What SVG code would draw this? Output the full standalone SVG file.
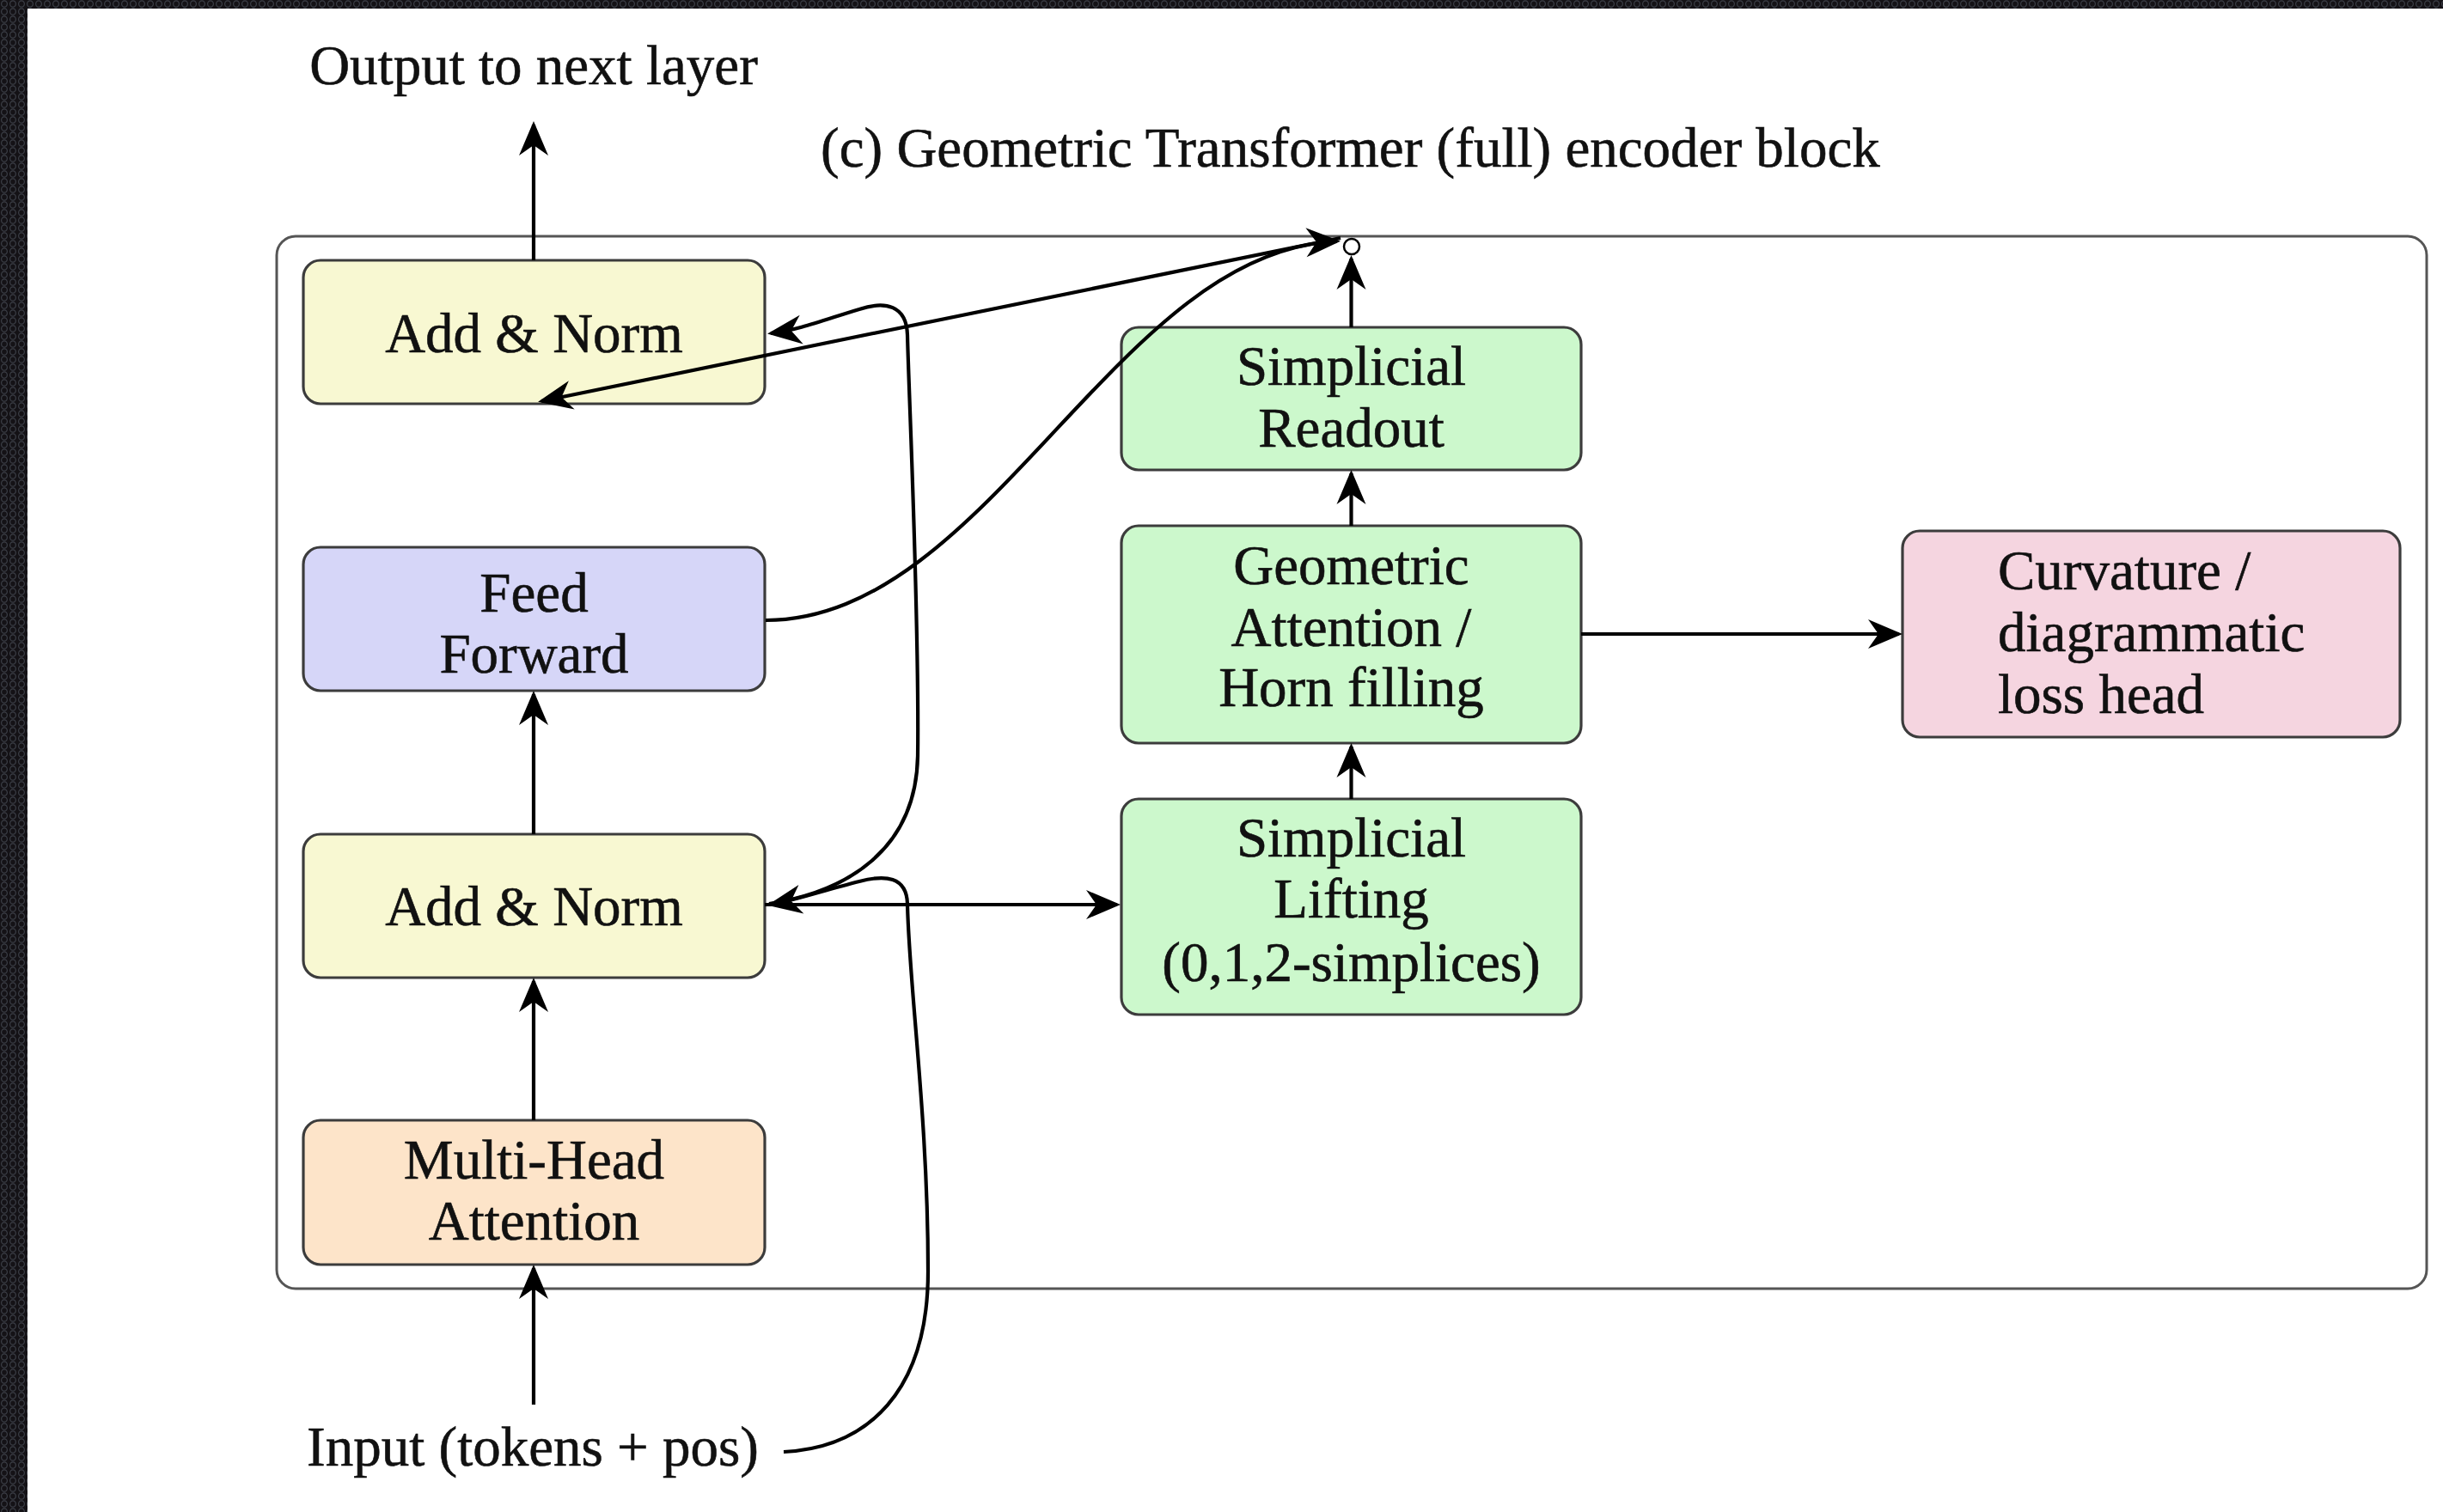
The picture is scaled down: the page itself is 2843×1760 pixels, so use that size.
<svg xmlns="http://www.w3.org/2000/svg" width="2843" height="1760" viewBox="0 0 2843 1760">
<defs>
<pattern id="mesh" width="10" height="9" patternUnits="userSpaceOnUse">
<rect width="10" height="9" fill="#141216"/>
<ellipse cx="5" cy="4.5" rx="3.4" ry="3.7" fill="none" stroke="#3a3d45" stroke-width="1.2"/>
</pattern>
<marker id="arr" viewBox="-40 -18 46 36" markerWidth="46" markerHeight="36" refX="0" refY="0" markerUnits="userSpaceOnUse" orient="auto">
<path d="M4,0 L-36,-17 L-24,0 L-36,17 Z" fill="#000"/>
</marker>
<style>
.t{font-family:"Liberation Serif","Times New Roman",serif;font-size:65px;fill:#111;stroke:#111;stroke-width:0.6px;}
.c{text-anchor:middle;}
.box{stroke:#3c3c3c;stroke-width:3.2;}
.yel{fill:#f8f8d2;}
.blu{fill:#d6d6f8;}
.org{fill:#fde4c9;}
.grn{fill:#ccf8cc;}
.pnk{fill:#f5d5e0;}
.ln{fill:none;stroke:#000;stroke-width:4.2;marker-end:url(#arr);}
</style>
</defs>
<rect width="2843" height="1760" fill="#fff"/>
<rect x="0" y="0" width="32" height="1760" fill="url(#mesh)"/>
<rect x="0" y="0" width="2843" height="10" fill="url(#mesh)"/>

<g id="outer">
<rect x="322" y="275" width="2502" height="1225" rx="22" fill="none" stroke="#555" stroke-width="3"/>
</g>

<g id="labels">
<text class="t c" x="621" y="98">Output to next layer</text>
<text class="t" x="955" y="194">(c) Geometric Transformer (full) encoder block</text>
<text class="t c" x="620" y="1706">Input (tokens + pos)</text>
</g>

<g id="addnorm2">
<rect class="box yel" x="353" y="303" width="537" height="167" rx="20"/>
<text class="t c" x="621.5" y="410">Add &amp; Norm</text>
</g>
<g id="ffn">
<rect class="box blu" x="353" y="637" width="537" height="167" rx="20"/>
<text class="t c" x="621.5" y="712">Feed</text>
<text class="t c" x="621.5" y="783">Forward</text>
</g>
<g id="addnorm1">
<rect class="box yel" x="353" y="971" width="537" height="167" rx="20"/>
<text class="t c" x="621.5" y="1077">Add &amp; Norm</text>
</g>
<g id="mha">
<rect class="box org" x="353" y="1304" width="537" height="168" rx="20"/>
<text class="t c" x="621.5" y="1372">Multi-Head</text>
<text class="t c" x="621.5" y="1443">Attention</text>
</g>
<g id="readout">
<rect class="box grn" x="1305" y="381" width="535" height="166" rx="20"/>
<text class="t c" x="1572.5" y="448">Simplicial</text>
<text class="t c" x="1572.5" y="520">Readout</text>
</g>
<g id="geomattn">
<rect class="box grn" x="1305" y="612" width="535" height="253" rx="20"/>
<text class="t c" x="1572.5" y="680">Geometric</text>
<text class="t c" x="1572.5" y="752">Attention /</text>
<text class="t c" x="1572.5" y="822">Horn filling</text>
</g>
<g id="lifting">
<rect class="box grn" x="1305" y="930" width="535" height="251" rx="20"/>
<text class="t c" x="1572.5" y="997">Simplicial</text>
<text class="t c" x="1572.5" y="1068">Lifting</text>
<text class="t c" x="1572.5" y="1142">(0,1,2-simplices)</text>
</g>
<g id="curvature">
<rect class="box pnk" x="2214" y="618" width="579" height="240" rx="20"/>
<text class="t" x="2325" y="686">Curvature /</text>
<text class="t" x="2325" y="758">diagrammatic</text>
<text class="t" x="2325" y="830">loss head</text>
</g>

<g id="connectors">
<path class="ln" d="M621,1635 L621,1476"/>
<path class="ln" d="M621,1304 L621,1142"/>
<path class="ln" d="M621,971 L621,808"/>
<path class="ln" d="M621,303 L621,145"/>
<path class="ln" d="M1572.5,930 L1572.5,869"/>
<path class="ln" d="M1572.5,612 L1572.5,551"/>
<path class="ln" d="M1572.5,381 L1572.5,301"/>
<path class="ln" d="M890,1053 L1300,1053"/>
<path class="ln" d="M1840,738 L2210,738"/>
<path class="ln" d="M895,1052 C985,1038 1066,990 1068,880 C1070,720 1058,470 1056,390 C1055,355 1030,350 1000,360 C960,372 930,384 897,388"/>
<path class="ln" d="M912,1690 C1010,1685 1080,1620 1080,1480 C1080,1300 1058,1150 1056,1052 C1055,1020 1030,1018 1000,1026 C960,1036 925,1048 897,1053"/>
<path class="ln" d="M891,722 C1150,722 1300,290 1556,281"/>
<path class="ln" d="M1560,277 L630,467"/>
</g>
<g id="sum">
<circle cx="1573" cy="287" r="9" fill="#fff" stroke="#000" stroke-width="2.5"/>
</g>
</svg>
